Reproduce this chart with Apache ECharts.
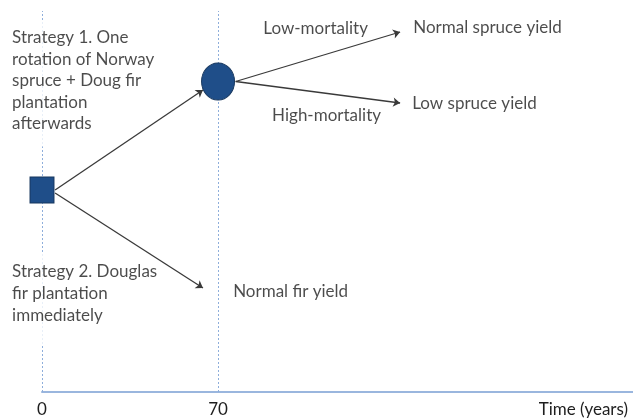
<!DOCTYPE html>
<html>
<head>
<meta charset="utf-8">
<script src="https://cdn.jsdelivr.net/npm/echarts@6/dist/echarts.min.js"></script>
<style>
html,body{margin:0;padding:0;background:#fff;}
#chart{width:633px;height:419px;}
</style>
</head>
<body>
<div id="chart"></div>
<script>
// ---- data (x in years, y in layout units of the tree) ----
const timeTicks = [0, 70];
const axisMaxYears = 235;
const axisName = 'Time (years)';
const decisionNode = [[0, 202]];
const chanceNode = [[70, 310.5]];
const guideLines = [
  [[0, 0], [0, 381]],
  [[70, 0], [70, 381]]
];
const branchFrom = [[5.2, 202], [5.2, 199], [77, 310.5], [77, 310.5]];
const branchTo = [[64, 302], [64, 104], [142.4, 360], [142.4, 289]];
const strategyTexts = [
  'Strategy 1. One\nrotation of Norway\nspruce + Doug fir\nplantation\nafterwards',
  'Strategy 2. Douglas\nfir plantation\nimmediately'
];
const strategyAnchors = [[-11.9, 370], [-11.9, 138]];
const outcomeTexts = ['Low-mortality', 'Normal spruce yield', 'Low spruce yield', 'High-mortality', 'Normal fir yield'];
const outcomeAnchors = [[88, 363], [147.6, 364], [147.2, 288], [91.5, 276], [76, 100]];

const FONT = 'Lato';
const FS = 17;
const TXT = '#1e1e1e';

const chart = echarts.init(document.getElementById('chart'));
chart.setOption({
  animation: false,
  backgroundColor: '#ffffff',
  grid: {left: 42, right: 0, top: 0, bottom: 27, containLabel: false},
  xAxis: {
    type: 'value', min: 0, max: axisMaxYears, interval: 70,
    axisLine: {show: true, lineStyle: {color: '#9ab6de', width: 2}},
    axisTick: {show: false},
    splitLine: {show: false},
    axisLabel: {
      margin: 9, fontFamily: FONT, fontSize: FS, color: TXT,
      showMaxLabel: false,
      formatter: v => timeTicks.indexOf(v) >= 0 ? String(v) : ''
    },
    name: axisName, nameLocation: 'end', nameGap: -5,
    nameTextStyle: {fontFamily: FONT, fontSize: FS, color: TXT, align: 'right', verticalAlign: 'top', padding: [9, 0, 0, 0]}
  },
  yAxis: {type: 'value', min: 0, max: 392, show: false},
  series: [
    {
      type: 'lines', coordinateSystem: 'cartesian2d', z: 1, silent: true,
      lineStyle: {color: '#8eaedb', width: 1, type: [2, 2], opacity: 1},
      data: guideLines.map(c => ({coords: c}))
    },
    {
      type: 'scatter', z: 3, clip: false, symbolSize: 0, silent: true,
      label: {
        show: true, position: [0, 0], align: 'left', verticalAlign: 'top',
        fontFamily: FONT, fontSize: FS, color: TXT,
        backgroundColor: '#ffffff'
      },
      data: [
        {value: strategyAnchors[0], label: {formatter: strategyTexts[0], lineHeight: 21.5, padding: [5, 4, 12, 0]}},
        {value: strategyAnchors[1], label: {formatter: strategyTexts[1], lineHeight: 22, padding: [7, 4, 17, 0]}}
      ]
    },
    {
      type: 'lines', coordinateSystem: 'cartesian2d', z: 4, silent: true,
      symbol: ['none', 'arrow'], symbolSize: 7,
      lineStyle: {color: '#3a3a3a', width: 1.3, opacity: 1},
      data: branchFrom.map((f, i) => ({coords: [f, branchTo[i]]}))
    },
    {
      type: 'scatter', z: 5, clip: false, symbol: 'rect', symbolSize: [24, 26], silent: true,
      itemStyle: {color: '#1f4e89', borderColor: '#17375e', borderWidth: 1, opacity: 1},
      data: decisionNode
    },
    {
      type: 'scatter', z: 5, clip: false, symbol: 'circle', symbolSize: [33, 37], silent: true,
      itemStyle: {color: '#1f4e89', borderColor: '#17375e', borderWidth: 1, opacity: 1},
      data: chanceNode
    },
    {
      type: 'scatter', z: 6, clip: false, symbolSize: 0, silent: true,
      label: {
        show: true, position: [0, 0], align: 'left', verticalAlign: 'middle',
        fontFamily: FONT, fontSize: FS, color: TXT,
        formatter: p => outcomeTexts[p.dataIndex]
      },
      data: outcomeAnchors
    }
  ]
});
</script>
</body>
</html>
